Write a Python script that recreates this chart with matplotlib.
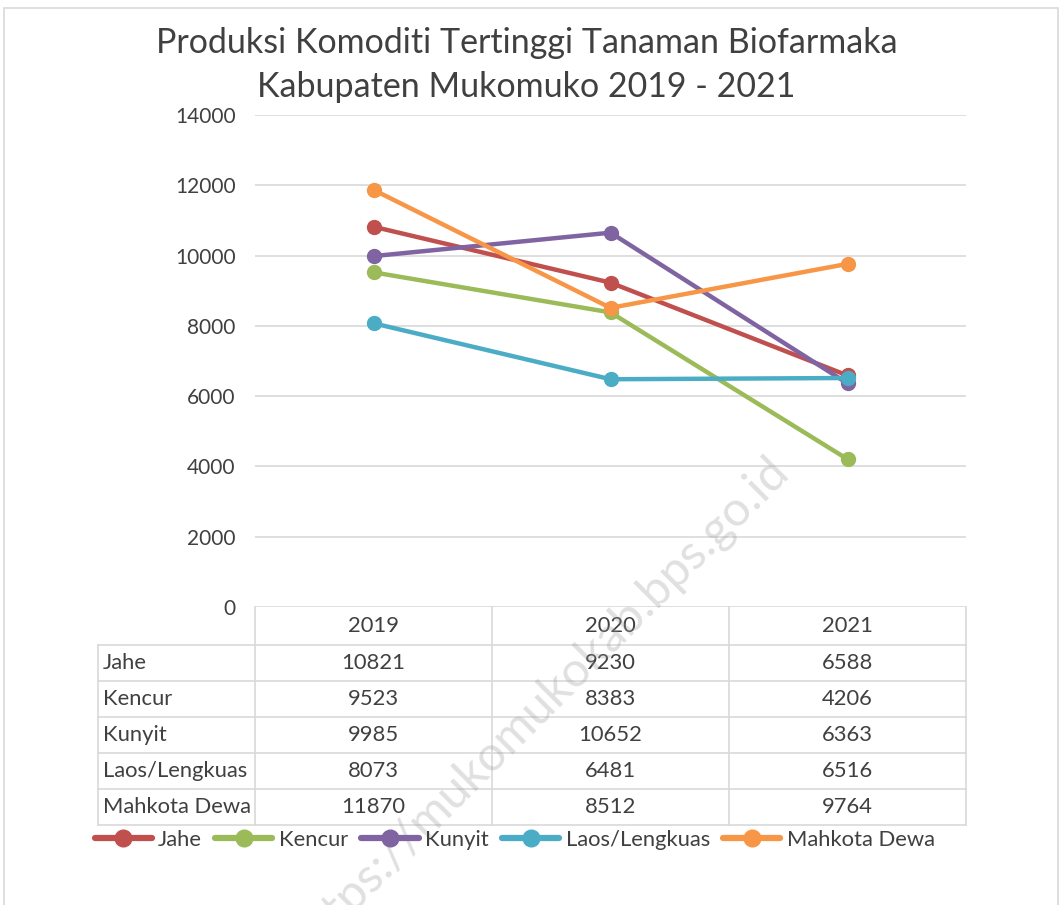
import matplotlib.pyplot as plt
from matplotlib.patches import Rectangle
import matplotlib.transforms as mtransforms

plt.rcParams['font.family'] = ['Lato', 'DejaVu Sans']

years = ['2019', '2020', '2021']
names = ['Jahe', 'Kencur', 'Kunyit', 'Laos/Lengkuas', 'Mahkota Dewa']
jahe = [10821, 9230, 6588]
kencur = [9523, 8383, 4206]
kunyit = [9985, 10652, 6363]
laos = [8073, 6481, 6516]
mahkota = [11870, 8512, 9764]
series = [jahe, kencur, kunyit, laos, mahkota]
colors = ['#C0504D', '#9BBB59', '#8064A2', '#4BACC6', '#F79646']
yticks = [0, 2000, 4000, 6000, 8000, 10000, 12000, 14000]

txt = '#404040'
grid = '#d9d9d9'

fig = plt.figure(figsize=(10.59, 9.05), dpi=100)
fig.patches.append(Rectangle((0.004, -0.01), 0.995, 1.001, transform=fig.transFigure,
                             fill=False, edgecolor=grid, lw=1.2))
ax = fig.add_axes([0.2408, 0.3293, 0.6714, 0.5436])

x = range(len(years))
for name, vals, c in zip(names, series, colors):
    ax.plot(x, vals, '-o', color=c, lw=3.2, ms=10, label=name, solid_capstyle='round')

ax.set_xlim(-0.5, 2.5)
ax.set_ylim(0, 14000)
ax.set_yticks(yticks)
ax.set_yticklabels([str(v) for v in yticks], fontsize=15, color=txt)
ax.set_xticks([])
ax.tick_params(axis='y', length=0, pad=14)
for s in ax.spines.values():
    s.set_visible(False)
ax.grid(axis='y', color=grid, lw=1.2)
ax.set_axisbelow(True)

fig.text(0.497, 0.953, 'Produksi Komoditi Tertinggi Tanaman Biofarmaka', ha='center', va='center',
         fontsize=24.5, color=txt)
fig.text(0.497, 0.904, 'Kabupaten Mukomuko 2019 - 2021', ha='center', va='center',
         fontsize=24.5, color=txt)

# data table under the plot (x in data units, y in axes units)
tr = mtransforms.blended_transform_factory(ax.transData, ax.transAxes)
head_h = 38 / 492
row_h = 36 / 492
label_left = -0.5 - 157 / 237
fs = 15.8
kw = dict(clip_on=False, color=grid, lw=1.2, transform=tr)
for i, yr in enumerate(years):
    ax.text(i, -head_h / 2, yr, ha='center', va='center', fontsize=fs, color=txt,
            transform=tr)
ax.plot([-0.5, 2.5], [-head_h, -head_h], **kw)
ax.plot([label_left, -0.5], [-head_h, -head_h], **kw)
for r, (name, vals) in enumerate(zip(names, series)):
    yc = -head_h - row_h * (r + 0.5)
    yb = -head_h - row_h * (r + 1)
    ax.text(label_left + 0.02, yc, name, ha='left', va='center', fontsize=fs, color=txt,
            transform=tr)
    for i, v in enumerate(vals):
        ax.text(i, yc, str(v), ha='center', va='center', fontsize=fs, color=txt,
                transform=tr)
    ax.plot([label_left, 2.5], [yb, yb], **kw)
bottom = -head_h - row_h * len(names)
for xv in [-0.5, 0.5, 1.5, 2.5]:
    ax.plot([xv, xv], [0, bottom], **kw)
ax.plot([label_left, label_left], [-head_h, bottom], **kw)

leg = fig.legend(loc='center', bbox_to_anchor=(0.486, 0.072), ncol=5, frameon=False,
                 fontsize=fs, handlelength=2.6, handletextpad=0.3, columnspacing=0.6,
                 labelcolor=txt)
for h in leg.legend_handles:
    h.set_linewidth(4.5)
    h.set_markersize(12)

fig.text(0.51, 0.222, 'https://mukomukokab.bps.go.id', rotation=45, ha='center', va='center',
         fontsize=35, color='#999999', alpha=0.3)

plt.savefig('out.png', dpi=100)
